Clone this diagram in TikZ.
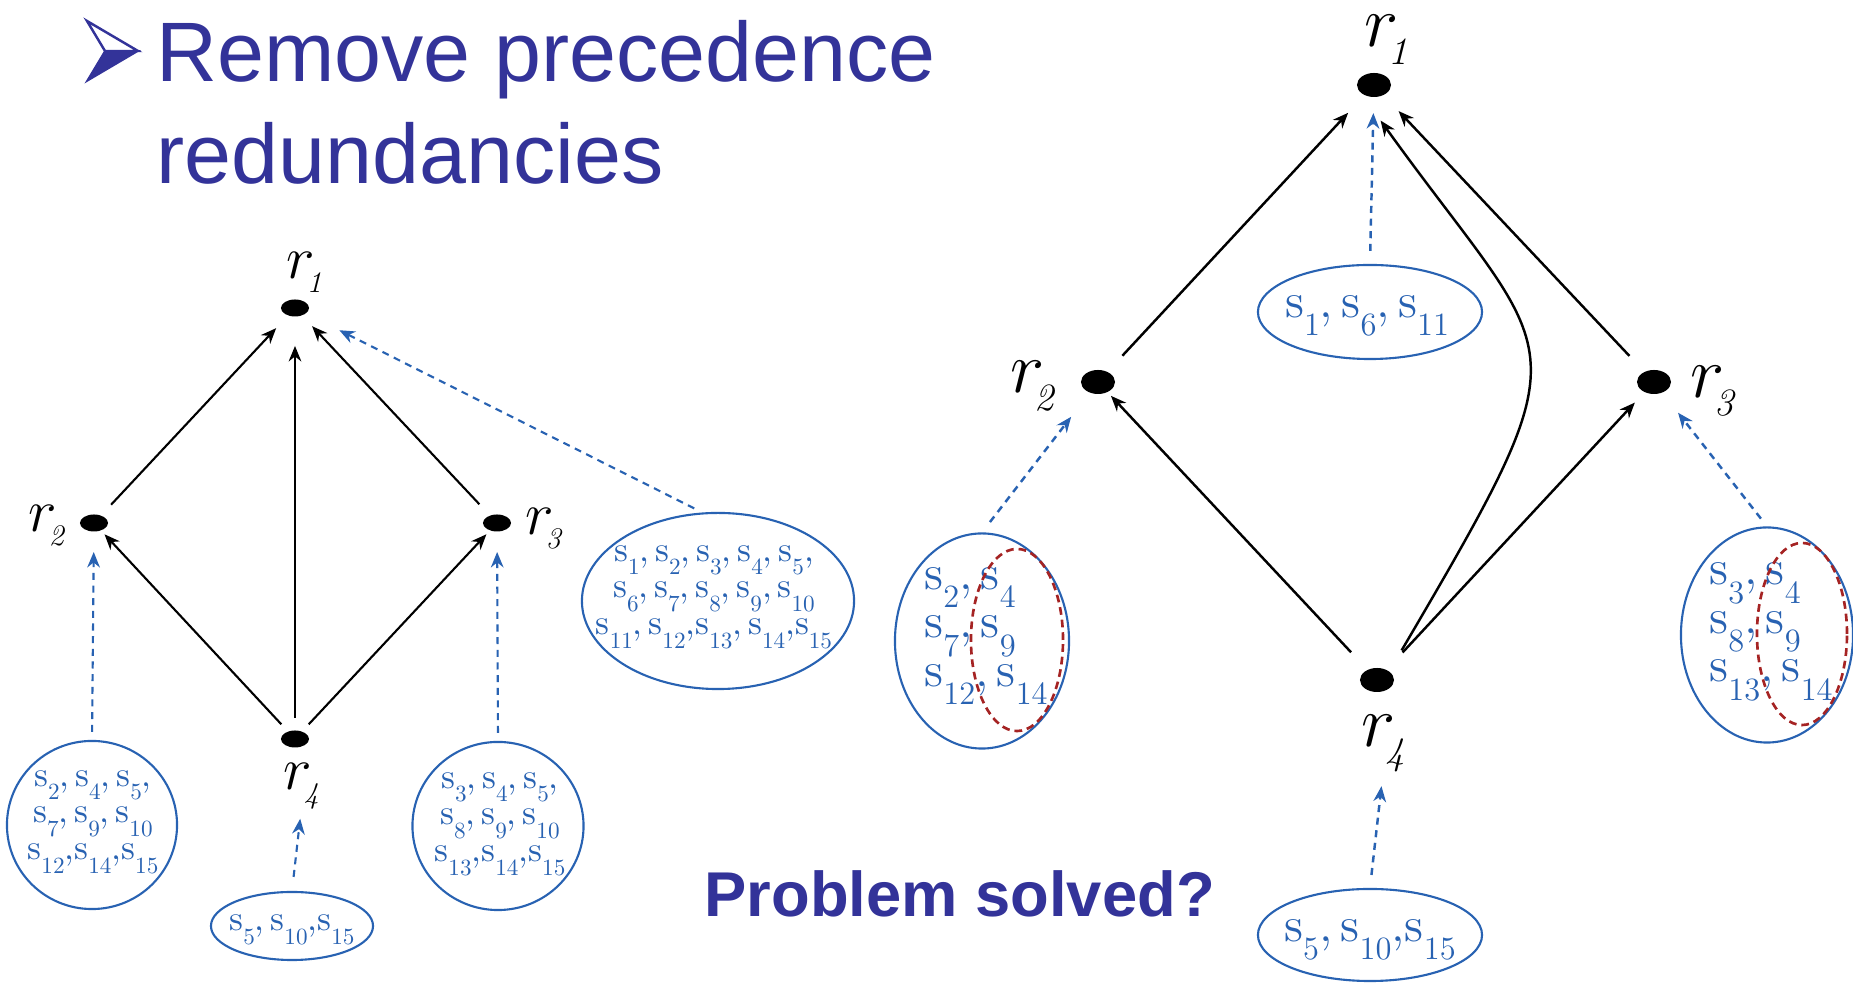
\documentclass[tikz,border=0pt]{standalone}
\usepackage{fontspec}
\newfontfamily\arialfont{Liberation Sans}
\usepackage{graphicx}
\usetikzlibrary{shapes.geometric,arrows.meta}
\definecolor{titleblue}{RGB}{51,51,153}
\definecolor{setblue}{RGB}{40,98,178}
\definecolor{ringred}{RGB}{165,35,35}
% element of a set: upright s with a small lowered index
\newcommand\sv[1]{s\raisebox{-0.38em}{\scalebox{0.66}{#1}}}
% resource label: italic r with a small italic index tucked under it
\newcommand\rlab[1]{$r$\kern-0.14em\raisebox{-0.22em}{\scalebox{0.5}{\itshape #1}}}
\begin{document}
\begin{tikzpicture}[x=0.01cm,y=-0.01cm,
  dot/.style={ellipse,fill=black,inner sep=0pt},
  dotL/.style={dot,minimum width=0.28cm,minimum height=0.17cm},
  dotR/.style={dot,minimum width=0.34cm,minimum height=0.24cm},
  prec/.style={draw=black,line width=0.6pt,-{Stealth[length=4.4pt,width=3.6pt]}},
  inflow/.style={draw=setblue,line width=0.6pt,dash pattern=on 2pt off 1.6pt,
                 -{Stealth[length=4.4pt,width=3.6pt]}},
  setring/.style={ellipse,draw=setblue,line width=0.6pt,inner sep=0pt},
  overlap/.style={ellipse,draw=ringred,line width=0.75pt,dash pattern=on 2.2pt off 1.4pt,inner sep=0pt},
  setL/.style={text=setblue,font=\fontsize{10}{10.5}\selectfont,align=center,inner sep=0pt},
  setR/.style={text=setblue,font=\fontsize{14}{13.8}\selectfont,align=left,inner sep=0pt},
  rlabL/.style={font=\fontsize{17}{17}\selectfont,inner sep=0pt,anchor=base west},
  rlabR/.style={font=\fontsize{22}{22}\selectfont,inner sep=0pt,anchor=base west},
  heading/.style={text=titleblue,inner sep=0pt}]
\path[use as bounding box] (0,0) rectangle (1853,983);

% ---------- heading ----------
\filldraw[titleblue,line width=0.5pt] (105,51) -- (138,51) -- (87,81) -- cycle;
\filldraw[draw=titleblue,fill=white,line width=0.7pt] (87,21) -- (138,51) -- (105,51) -- cycle;
\node[heading,anchor=north west,align=left,
      font=\arialfont\fontsize{24}{29}\selectfont] (title) at (156,20)
  {Remove precedence\\redundancies};
\node[heading,anchor=base west,font=\arialfont\bfseries\fontsize{18}{18}\selectfont]
  (question) at (704,917) {Problem solved?};

% ---------- left graph ----------
\node[dotL] (r1L) at (295,308) {};
\node[dotL] (r2L) at (94,523) {};
\node[dotL] (r3L) at (497,523) {};
\node[dotL] (r4L) at (295,739) {};
\node[rlabL] (lr1L) at (286,279) {\rlab{1}};
\node[rlabL] (lr2L) at (28,532) {\rlab{2}};
\node[rlabL] (lr3L) at (525,535) {\rlab{3}};
\node[rlabL] (lr4L) at (283,790) {\rlab{4}};

\node[setring,minimum width=1.70cm,minimum height=1.68cm] (sL2) at (92,825) {};
\node[setring,minimum width=1.71cm,minimum height=1.68cm] (sL3) at (498,826) {};
\node[setring,minimum width=1.62cm,minimum height=0.68cm] (sL4) at (292,926) {};
\node[setring,minimum width=2.72cm,minimum height=1.76cm] (sB) at (718,601) {};
\node[setL] (tL2) at (93,822) {\sv{2},\,\sv{4},\,\sv{5},\\\sv{7},\,\sv{9},\,\sv{10}\\\sv{12},\sv{14},\sv{15}};
\node[setL] (tL3) at (500,824) {\sv{3},\,\sv{4},\,\sv{5},\\\sv{8},\,\sv{9},\,\sv{10}\\\sv{13},\sv{14},\sv{15}};
\node[setL] (tL4) at (292,930) {\sv{5},\,\sv{10},\sv{15}};
\node[setL] (tB) at (714,597) {\sv{1},\,\sv{2},\,\sv{3},\,\sv{4},\,\sv{5},\\\sv{6},\,\sv{7},\,\sv{8},\,\sv{9},\,\sv{10}\\\sv{11},\,\sv{12},\sv{13},\,\sv{14},\sv{15}};

\draw[prec,shorten <=7.1pt,shorten >=7.85pt] (r2L.center) -- (r1L.center);
\draw[prec,shorten <=6pt,shorten >=10.8pt] (r4L.center) -- (r1L.center);
\draw[prec,shorten <=7.3pt,shorten >=7.1pt] (r3L.center) -- (r1L.center);
\draw[prec,shorten <=5.7pt,shorten >=4.4pt] (r4L.center) -- (r2L.center);
\draw[prec,shorten <=5.7pt,shorten >=4.4pt] (r4L.center) -- (r3L.center);

\draw[inflow,shorten <=2.3pt,shorten >=8.25pt] (sL2.north) -- (r2L.center);
\draw[inflow,shorten <=2.3pt,shorten >=8.25pt] (sL3.north) -- (r3L.center);
\draw[inflow,shorten <=4pt,shorten >=2.6pt] (sL4.north) -- (lr4L.south);
\draw[inflow,shorten <=2.6pt,shorten >=14.1pt] (sB.100) -- (r1L.center);

% ---------- right graph ----------
\node[dotR] (r1R) at (1374,85) {};
\node[dotR] (r2R) at (1098,382) {};
\node[dotR] (r3R) at (1654,382) {};
\node[dotR] (r4R) at (1377,680) {};
\node[rlabR] (lr1R) at (1364,47) {\rlab{1}};
\node[rlabR] (lr2R) at (1010,393) {\rlab{2}};
\node[rlabR] (lr3R) at (1690,398) {\rlab{3}};
\node[rlabR] (lr4R) at (1361,747) {\rlab{4}};

\node[setring,minimum width=2.24cm,minimum height=0.94cm] (sR1) at (1370,312) {};
\node[setring,minimum width=1.74cm,minimum height=2.15cm] (sR2) at (982,641) {};
\node[setring,minimum width=1.72cm,minimum height=2.15cm] (sR3) at (1767,635) {};
\node[setring,minimum width=2.24cm,minimum height=0.92cm] (sR4) at (1370,935) {};
\node[setR] (tR1) at (1367,316) {\sv{1},\,\sv{6},\,\sv{11}};
\node[setR] (tR2) at (986,636) {\sv{2},\,\sv{4}\\\sv{7},\,\sv{9}\\\sv{12},\,\sv{14}};
\node[setR] (tR3) at (1771,632) {\sv{3},\,\sv{4}\\\sv{8},\,\sv{9}\\\sv{13},\,\sv{14}};
\node[setR] (tR4) at (1370,940) {\sv{5},\,\sv{10},\sv{15}};
\node[overlap,minimum width=0.92cm,minimum height=1.82cm] (oR2) at (1017,640) {};
\node[overlap,minimum width=0.90cm,minimum height=1.82cm] (oR3) at (1802,634) {};

\draw[prec,line width=0.7pt,shorten <=10.2pt,shorten >=10.8pt] (r2R.center) -- (r1R.center);
\draw[prec,line width=0.7pt,shorten <=10.2pt,shorten >=10.2pt] (r3R.center) -- (r1R.center);
\draw[prec,line width=0.7pt,shorten <=10.8pt,shorten >=5.4pt] (r4R.center) -- (r2R.center);
\draw[prec,line width=0.7pt,shorten <=10.7pt,shorten >=8pt] (r4R.center) -- (r3R.center);
\draw[prec,line width=0.7pt,shorten <=6.8pt,shorten >=9.3pt]
  (r4R.north east) .. controls (1591.5,326.7) and (1560,370) .. (r1R.south west);

\draw[inflow,line width=0.7pt,shorten <=3.7pt,shorten >=8pt] (sR1.north) -- (r1R.center);
\draw[inflow,line width=0.7pt,shorten <=3.7pt,shorten >=12.5pt] (sR2.north) -- (r2R.center);
\draw[inflow,line width=0.7pt,shorten <=2.8pt,shorten >=11.1pt] (sR3.north) -- (r3R.center);
\draw[inflow,line width=0.7pt,shorten <=3.7pt,shorten >=4pt] (sR4.north) -- (lr4R.south);
\end{tikzpicture}
\end{document}
